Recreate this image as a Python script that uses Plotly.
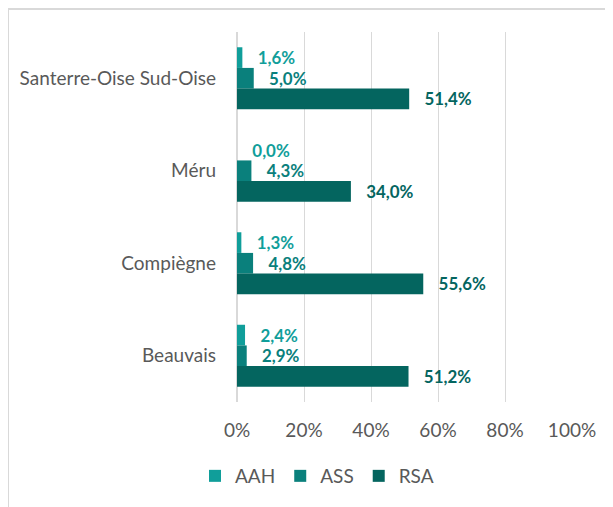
import plotly.graph_objects as go

# categories top to bottom, as they read on the chart
territoires = ["Santerre-Oise Sud-Oise", "Méru", "Compiègne", "Beauvais"]
aah = [0.016, 0.000, 0.013, 0.024]
ass = [0.050, 0.043, 0.048, 0.029]
rsa = [0.514, 0.340, 0.556, 0.512]

series = [
    ("AAH", aah, "#109e9a"),
    ("ASS", ass, "#0a807c"),
    ("RSA", rsa, "#04655f"),
]

font_family = "Lato, 'Open Sans', sans-serif"
grey = "#595959"

# page body has an 8px margin, so the figure is a bit smaller than the window
W, H = 605, 499
L, R, T, B = 229, 41, 24, 103
pw, ph = W - L - R, H - T - B

fig = go.Figure()
for name, values, color in series:
    fig.add_trace(
        go.Bar(
            y=territoires,
            x=values,
            name=name,
            orientation="h",
            marker={"color": color, "line": {"width": 0}},
            texttemplate="\u00a0\u00a0\u00a0%{x:.1%}",
            textposition="outside",
            textfont={"color": color, "size": 18, "family": font_family, "weight": "bold"},
            cliponaxis=False,
            hoverinfo="skip",
        )
    )

fig.update_layout(
    width=W,
    height=H,
    barmode="group",
    bargap=0.33,
    bargroupgap=0,
    separators=", ",
    plot_bgcolor="white",
    paper_bgcolor="white",
    font={"family": font_family, "size": 19, "color": grey},
    margin={"l": L, "r": R, "t": T, "b": B},
    showlegend=True,
    legend={
        "orientation": "h",
        "x": (317 - 8 - L) / pw,
        "xanchor": "center",
        "y": -0.2,
        "yanchor": "middle",
        "font": {"size": 19, "color": grey},
        "itemwidth": 30,
        "traceorder": "normal",
    },
    shapes=[
        dict(
            type="rect",
            xref="paper",
            yref="paper",
            x0=(0 - L) / pw,
            x1=(W + 20 - L) / pw,
            y0=-(H + 20 - T - ph) / ph,
            y1=1 + (T - 1) / ph,
            line={"color": "#d9d9d9", "width": 2},
            layer="below",
        )
    ],
)
fig.update_xaxes(
    range=[0, 1],
    dtick=0.2,
    tickformat=".0%",
    showgrid=True,
    gridcolor="#d9d9d9",
    gridwidth=1,
    zeroline=True,
    zerolinecolor="#d9d9d9",
    ticks="",
    ticklabelstandoff=15,
    fixedrange=True,
)
fig.update_yaxes(
    autorange="reversed",
    showgrid=False,
    ticks="",
    ticklabelstandoff=20,
    fixedrange=True,
)

fig.write_html("out.html")
